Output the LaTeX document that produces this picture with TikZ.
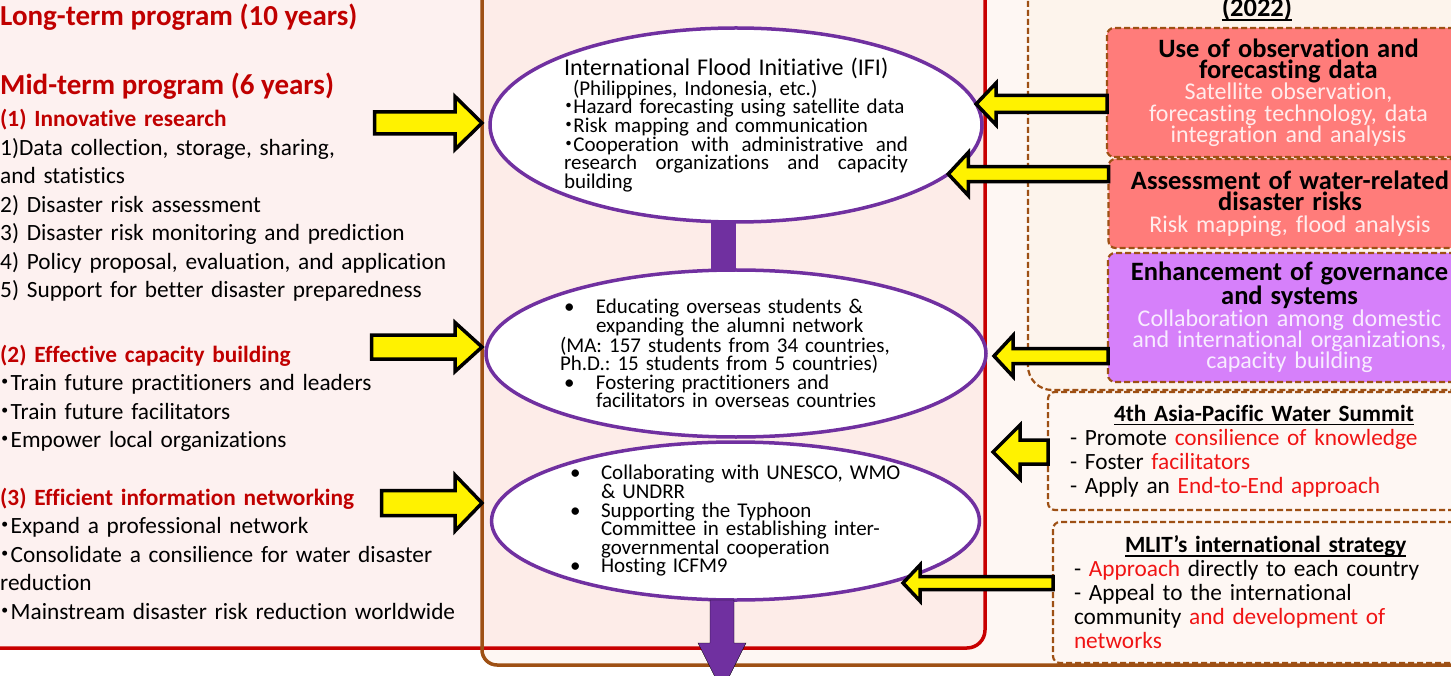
\documentclass[tikz,border=0pt]{standalone}
\usepackage{fontspec}
\setmainfont{Carlito}[Ligatures={TeX,NoCommon}]
\newfontfamily\cjk{Noto Sans CJK JP}
\usetikzlibrary{shapes.geometric,calc}

\definecolor{linered}{RGB}{200,0,0}
\definecolor{linebrown}{RGB}{158,80,20}
\definecolor{paneleft}{RGB}{253,241,240}
\definecolor{panemid}{RGB}{253,236,232}
\definecolor{paneright}{RGB}{254,247,243}
\definecolor{panedash}{RGB}{253,244,236}
\definecolor{salmon}{RGB}{255,124,122}
\definecolor{lilac}{RGB}{214,128,250}
\definecolor{ifipurple}{RGB}{112,48,160}
\definecolor{headred}{RGB}{192,0,0}
\definecolor{redtxt}{RGB}{240,20,20}
\definecolor{paletxt}{RGB}{255,236,236}
\definecolor{paletxtv}{RGB}{248,236,255}

\lineskiplimit=-100pt
\frenchspacing
\newcommand\kdot{\makebox[0.45em][c]{\cjk ・}}
\newcommand\bul[2]{\hspace*{#1}\makebox[#2][l]{\textbullet}}
\newcommand\uln[1]{\setbox0=\hbox{#1}\rlap{\rule[-4pt]{\wd0}{1.6pt}}\box0}
\newcommand\ttl{\fontsize{26.5}{21.3}\selectfont\bfseries\color{black}}
% block arrow: style, from, to, half shaft, half head, head length
\newcommand\blockarrow[6][yarrow]{
  \path (#2) coordinate (tailpt) (#3) coordinate (tippt);
  \path ($(tippt)!#6!(tailpt)$) coordinate (headpt);
  \draw[#1] ($(tailpt)!#4!90:(tippt)$) -- ($(headpt)!#4!90:(tippt)$)
    -- ($(headpt)!#5!90:(tippt)$) -- (tippt) -- ($(headpt)!#5!-90:(tippt)$)
    -- ($(headpt)!#4!-90:(tippt)$) -- ($(tailpt)!#4!-90:(tippt)$) -- cycle;
}

\begin{document}
\begin{tikzpicture}[x=1pt, y=-1pt,
  head/.style={anchor=base west, inner sep=0, text=headred, font=\fontsize{29}{30}\selectfont\bfseries},
  group/.style={anchor=base west, inner sep=0, text width=470, align=left, font=\fontsize{23.3}{28.5}\selectfont},
  ell/.style={ellipse, draw=ifipurple, line width=3.5, fill=white, inner sep=0, outer sep=0, align=left, font=\fontsize{21}{18.6}\selectfont},
  dashbox/.style={draw=linebrown, line width=2.2, dash pattern=on 6pt off 3pt},
  topic/.style={dashbox, rounded corners=7, minimum width=363, inner sep=0, outer sep=0, text width=350, align=center, font=\fontsize{24}{21.3}\selectfont},
  note/.style={dashbox, fill=paneright, rounded corners=7, inner sep=0, outer sep=0, align=left, font=\fontsize{23.3}{24}\selectfont},
  yarrow/.style={draw=black, fill=yellow, line width=3.5, line join=miter},
  purplearrow/.style={fill=ifipurple}]
\useasboundingbox (0,0) rectangle (1451,676);
\clip (0,0) rectangle (1451,676);
\fill[white] (0,0) rectangle (1451,676);

% panels
\fill[paneright, rounded corners=15] (482,-100) rectangle (1530,665);
\fill[paneleft, rounded corners=18] (-50,-50) rectangle (985,648);
\begin{scope}
  \clip (482,-100) rectangle (1530,700);
  \fill[panemid, rounded corners=18] (-50,-50) rectangle (985,648);
\end{scope}
\filldraw[dashbox, fill=panedash, rounded corners=24] (1028,-50) rectangle (1530,390);

% right column
\node[anchor=base, inner sep=0, font=\fontsize{26.5}{28}\selectfont\bfseries] (year) at (1257,17) {\uln{(2022)}};
\node[topic, fill=salmon, text=paletxt, minimum height=129] (obs) at (1288.5,92.5)
  {{\ttl Use of observation and\\ forecasting data}\\ Satellite observation,\\ forecasting technology, data\\ integration and analysis};
\node[topic, fill=salmon, text=paletxt, minimum height=89] (risk) at (1290,203.5)
  {{\ttl Assessment of water-related\\ disaster risks}\\ Risk mapping, flood analysis};
\node[topic, fill=lilac, text=paletxtv, minimum height=129] (gov) at (1289.5,317.5)
  {{\ttl Enhancement of governance\\ and systems}\\ Collaboration among domestic\\ and international organizations,\\ capacity building};
\node[note, minimum width=422, minimum height=118, text width=378] (summit) at (1259,451)
  {\hspace*{44pt}\uln{\bfseries 4th Asia-Pacific Water Summit}\\
   - Promote \textcolor{redtxt}{consilience of knowledge}\\
   - Foster \textcolor{redtxt}{facilitators}\\
   - Apply an \textcolor{redtxt}{End-to-End approach}};
\node[note, minimum width=417, minimum height=141, text width=375] (mlit) at (1261.5,592.5)
  {\hspace*{51pt}\uln{\bfseries MLIT’s international strategy}\\
   - \textcolor{redtxt}{Approach} directly to each country\\
   - Appeal to the international\\
   community \textcolor{redtxt}{and development of}\\
   \textcolor{redtxt}{networks}};

% frames
\draw[linered, line width=3.5, rounded corners=18] (-50,-50) rectangle (985,648);
\draw[linebrown, line width=3.5, rounded corners=15] (482,-100) rectangle (1530,665);
\coordinate (frame) at (482,665);

% middle column
\node[ell, minimum width=492, minimum height=194, text width=344] (ifi) at (736,125)
  {{\fontsize{24}{18.6}\selectfont International Flood Initiative (IFI)}\\
   \hspace*{9pt}(Philippines, Indonesia, etc.)\\
   \kdot Hazard forecasting using satellite data\\
   \kdot Risk mapping and communication\\
   \makebox[344pt][l]{\kdot Cooperation\hfill with\hfill administrative\hfill and}\\
   \makebox[344pt][l]{research\hfill organizations\hfill and\hfill capacity}\\
   building};
\node[ell, minimum width=500, minimum height=167, text width=352] (edu) at (736,353.5)
  {\bul{4pt}{32pt}Educating overseas students \&\\
   \hspace*{36pt}expanding the alumni network\\
   (MA: 157 students from 34 countries,\\
   Ph.D.: 15 students from 5 countries)\\
   \bul{4pt}{32pt}Fostering practitioners and\\
   \hspace*{36pt}facilitators in overseas countries};
\node[ell, minimum width=483, minimum height=158, text width=345] (net) at (735.5,521)
  {\bul{7pt}{31pt}Collaborating with UNESCO, WMO\\
   \hspace*{38pt}\& UNDRR\\
   \bul{7pt}{31pt}Supporting the Typhoon\\
   \hspace*{38pt}Committee in establishing inter-\\
   \hspace*{38pt}governmental cooperation\\
   \bul{7pt}{31pt}Hosting ICFM9};
\draw[ifipurple, line width=25] ([xshift=-12.5]ifi.south) -- ([xshift=-12.5]edu.north);
\coordinate (down) at (722,691);
\blockarrow[purplearrow]{net.south -| down}{down}{12pt}{24pt}{48pt}

% left column
\node[head] (long) at (0,26) {Long-term program (10 years)};
\node[head] (mid) at (0,95) {Mid-term program (6 years)};
\node[group] (research) at (0,127)
  {\textcolor{headred}{\bfseries (1) Innovative research}\\
   1)Data collection, storage, sharing,\\
   and statistics\\
   2) Disaster risk assessment\\
   3) Disaster risk monitoring and prediction\\
   4) Policy proposal, evaluation, and application\\
   5) Support for better disaster preparedness};
\node[group] (capacity) at (0,362)
  {\textcolor{headred}{\bfseries (2) Effective capacity building}\\
   \kdot Train future practitioners and leaders\\
   \kdot Train future facilitators\\
   \kdot Empower local organizations};
\node[group] (network) at (0,505)
  {\textcolor{headred}{\bfseries (3) Efficient information networking}\\
   \kdot Expand a professional network\\
   \kdot Consolidate a consilience for water disaster\\
   reduction\\
   \kdot Mainstream disaster risk reduction worldwide};

% yellow arrows
\coordinate (a1) at (374.5,123);
\coordinate (a2) at (371.5,347);
\coordinate (a3) at (381.5,503);
\coordinate (g) at (994,356);
\coordinate (s) at (993,452);
\coordinate (m) at (903,583);
\blockarrow{a1}{frame |- a1}{11pt}{26.5pt}{27pt}
\blockarrow{a2}{frame |- a2}{12pt}{24.5pt}{27pt}
\blockarrow{a3}{frame |- a3}{12.5pt}{28pt}{27pt}
\blockarrow{obs.west |- ifi.5}{ifi.5}{8.5pt}{21pt}{20pt}
\blockarrow{risk.west |- ifi.-13}{ifi.-13}{7.5pt}{21.5pt}{20pt}
\blockarrow{gov.west |- g}{g}{7.5pt}{20.5pt}{19pt}
\blockarrow{summit.west |- s}{s}{12pt}{27pt}{27pt}
\blockarrow{mlit.west |- m}{m}{6.5pt}{18pt}{17pt}
\end{tikzpicture}
\end{document}
